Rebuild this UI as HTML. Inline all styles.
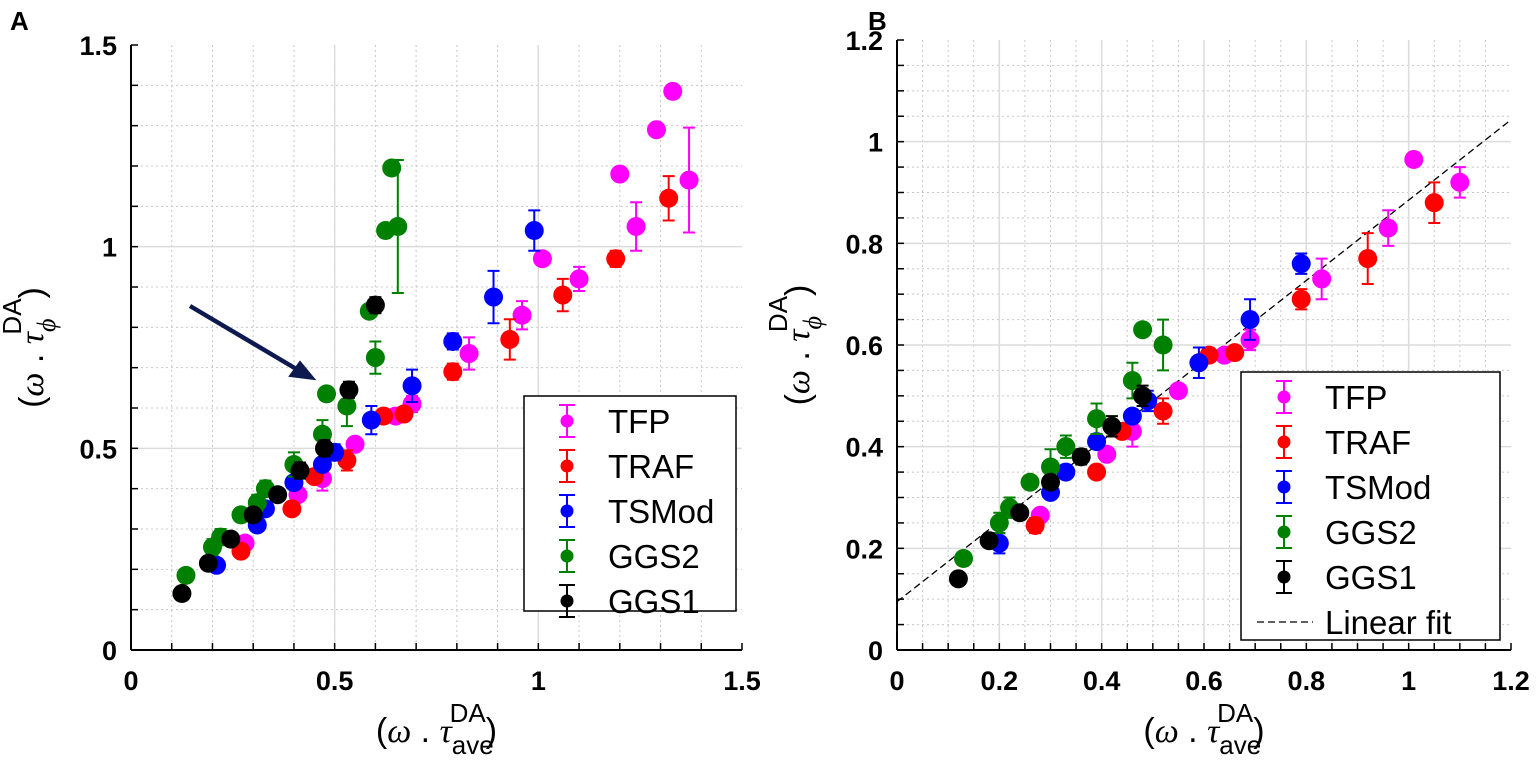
<!DOCTYPE html>
<html><head><meta charset="utf-8"><style>
html,body{margin:0;padding:0;background:#fff;}
svg{display:block;font-family:"Liberation Sans",Arial,sans-serif;}
</style></head><body>
<svg id="s" width="1536" height="770" xmlns="http://www.w3.org/2000/svg"></svg>
<script>
const S=document.getElementById('s');let h='';
const C={TFP:'#ff00ff',TRAF:'#ff0000',TSMod:'#0000ff',GGS2:'#008000',GGS1:'#000000'};
function panel(P){
 const X=v=>P.x0+v*(P.x1-P.x0)/P.xm, Y=v=>P.y0-v*(P.y0-P.y1)/P.ym;
 for(let v=P.mn;v<P.xm-1e-9;v+=P.mn){h+=`<line x1="${X(v)}" y1="${P.y1}" x2="${X(v)}" y2="${P.y0}" stroke="#c8c8c8" stroke-width="1" stroke-dasharray="2,3"/>`;}
 for(let v=P.mn;v<P.ym-1e-9;v+=P.mn){h+=`<line x1="${P.x0}" y1="${Y(v)}" x2="${P.x1}" y2="${Y(v)}" stroke="#c8c8c8" stroke-width="1" stroke-dasharray="2,3"/>`;}
 for(let v=P.mj;v<P.xm-1e-9;v+=P.mj){h+=`<line x1="${X(v)}" y1="${P.y1}" x2="${X(v)}" y2="${P.y0}" stroke="#dcdcdc" stroke-width="1.5"/>`;}
 for(let v=P.mj;v<P.ym-1e-9;v+=P.mj){h+=`<line x1="${P.x0}" y1="${Y(v)}" x2="${P.x1}" y2="${Y(v)}" stroke="#dcdcdc" stroke-width="1.5"/>`;}
 h+=`<line x1="${P.x0}" y1="${P.y1}" x2="${P.x0}" y2="${P.y0}" stroke="#000" stroke-width="2"/><line x1="${P.x0}" y1="${P.y0}" x2="${P.x1}" y2="${P.y0}" stroke="#000" stroke-width="2"/>`;
 for(let v=0;v<=P.xm+1e-9;v+=P.mn){h+=`<line x1="${X(v)}" y1="${P.y0}" x2="${X(v)}" y2="${P.y0-7}" stroke="#000" stroke-width="1.5"/>`;}
 for(let v=0;v<=P.ym+1e-9;v+=P.mn){h+=`<line x1="${P.x0}" y1="${Y(v)}" x2="${P.x0+7}" y2="${Y(v)}" stroke="#000" stroke-width="1.5"/>`;}
 P.xl.forEach(([v,t])=>{h+=`<text x="${X(v)}" y="${P.y0+40}" font-size="27" font-weight="bold" text-anchor="middle">${t}</text>`;});
 P.yl.forEach(([v,t])=>{h+=`<text x="${P.x0-14}" y="${Y(v)+10}" font-size="27" font-weight="bold" text-anchor="end">${t}</text>`;});
 if(P.fit){h+=`<line x1="${X(0)}" y1="${Y(P.fit[0])}" x2="${X(P.xm)}" y2="${Y(P.fit[0]+P.fit[1]*P.xm)}" stroke="#000" stroke-width="1.3" stroke-dasharray="7,4"/>`;}
 if(P.extra) h+=P.extra;
 for(const k of ['TFP','TRAF','TSMod','GGS2','GGS1']){
  for(const p of P.d[k]){const cx=X(p[0]),cy=Y(p[1]);
   if(p[2]){const e=p[2]*(P.y0-P.y1)/P.ym;h+=`<path d="M${cx} ${cy-e}V${cy+e}M${cx-6} ${cy-e}H${cx+6}M${cx-6} ${cy+e}H${cx+6}" stroke="${C[k]}" stroke-width="2" fill="none"/>`;}
   h+=`<circle cx="${cx}" cy="${cy}" r="9.5" fill="${C[k]}"/>`;}
 }
 const L=P.leg;h+=`<rect x="${L.x}" y="${L.y}" width="${L.w}" height="${L.h}" fill="#fff" stroke="#000" stroke-width="1.5"/>`;
 ['TFP','TRAF','TSMod','GGS2','GGS1'].forEach((k,i)=>{const cy=L.y+25+i*45,cx=L.x+43;
  h+=`<path d="M${cx} ${cy-16}V${cy+16}M${cx-8} ${cy-16}H${cx+8}M${cx-8} ${cy+16}H${cx+8}" stroke="${C[k]}" stroke-width="2"/><circle cx="${cx}" cy="${cy}" r="6.5" fill="${C[k]}"/><text x="${L.x+84}" y="${cy+12}" font-size="33">${k}</text>`;});
 if(P.fit){const cy=L.y+25+5*45;h+=`<line x1="${L.x+16}" y1="${cy}" x2="${L.x+72}" y2="${cy}" stroke="#000" stroke-width="1.3" stroke-dasharray="7,4"/><text x="${L.x+84}" y="${cy+12}" font-size="33">Linear fit</text>`;}
 const mx=(P.x0+P.x1)/2;
 h+=`<text x="${mx}" y="${P.y0+92}" font-size="34" text-anchor="middle">(<tspan font-family="Liberation Serif" font-style="italic">ω</tspan> . <tspan font-family="Liberation Serif" font-style="italic">τ</tspan><tspan font-size="26" dy="12">ave</tspan><tspan font-size="26" dx="-44" dy="-32">DA</tspan><tspan dy="20">)</tspan></text>`;
 const my=(P.y0+P.y1)/2;
 h+=`<text transform="translate(${P.x0-88},${my}) rotate(-90)" font-size="34" text-anchor="middle">(<tspan font-family="Liberation Serif" font-style="italic">ω</tspan> . <tspan font-family="Liberation Serif" font-style="italic">τ</tspan><tspan font-size="26" dy="12" font-family="Liberation Serif" font-style="italic">ϕ</tspan><tspan font-size="26" dx="-16" dy="-34">DA</tspan><tspan dy="22">)</tspan></text>`;
 h+=`<text x="${P.lx}" y="30" font-size="26" font-weight="bold">${P.lt}</text>`;
}
const dA={
GGS1:[[0.125,0.14],[0.19,0.215],[0.245,0.275],[0.30,0.335],[0.36,0.385],[0.415,0.445,0.02],[0.475,0.50,0.02],[0.535,0.645,0.02],[0.60,0.855,0.02]],
GGS2:[[0.135,0.185],[0.20,0.255,0.02],[0.22,0.28,0.02],[0.27,0.335],[0.31,0.365,0.02],[0.33,0.40,0.02],[0.40,0.46,0.03],[0.47,0.535,0.035],[0.48,0.635],[0.53,0.605,0.05],[0.585,0.84],[0.60,0.725,0.04],[0.625,1.04],[0.64,1.195],[0.655,1.05,0.165]],
TSMod:[[0.21,0.21],[0.31,0.31],[0.33,0.35],[0.40,0.415],[0.47,0.46],[0.50,0.49,0.02],[0.59,0.57,0.035],[0.69,0.655,0.04],[0.79,0.765,0.02],[0.89,0.875,0.065],[0.99,1.04,0.05]],
TRAF:[[0.27,0.245],[0.395,0.35],[0.45,0.43],[0.53,0.47,0.025],[0.62,0.58],[0.67,0.585],[0.79,0.69,0.02],[0.93,0.77,0.05],[1.06,0.88,0.04],[1.19,0.97,0.02],[1.32,1.12,0.055]],
TFP:[[0.28,0.265],[0.41,0.385],[0.47,0.425,0.03],[0.55,0.51],[0.65,0.58],[0.69,0.61,0.02],[0.83,0.735,0.04],[0.96,0.83,0.035],[1.01,0.97],[1.10,0.92,0.03],[1.20,1.18],[1.24,1.05,0.06],[1.29,1.29],[1.33,1.385],[1.37,1.165,0.13]]};
const dB={
GGS1:[[0.12,0.14],[0.18,0.215],[0.24,0.27],[0.30,0.33,0.01],[0.36,0.38,0.015],[0.42,0.44,0.02],[0.48,0.50,0.02]],
GGS2:[[0.13,0.18],[0.20,0.25,0.02],[0.22,0.28,0.02],[0.26,0.33],[0.30,0.36,0.035],[0.33,0.40,0.022],[0.39,0.455,0.03],[0.46,0.53,0.035],[0.48,0.63],[0.52,0.60,0.05]],
TSMod:[[0.20,0.21,0.02],[0.30,0.31,0.01],[0.33,0.35],[0.39,0.41],[0.46,0.46],[0.49,0.49,0.02],[0.59,0.565,0.03],[0.69,0.65,0.04],[0.79,0.76,0.02]],
TRAF:[[0.27,0.245,0.015],[0.39,0.35],[0.44,0.43],[0.52,0.47,0.025],[0.61,0.58],[0.66,0.585],[0.79,0.69,0.02],[0.92,0.77,0.05],[1.05,0.88,0.04]],
TFP:[[0.28,0.265],[0.41,0.385],[0.46,0.43,0.03],[0.55,0.51],[0.64,0.58],[0.69,0.61,0.02],[0.83,0.73,0.04],[0.96,0.83,0.035],[1.01,0.965],[1.10,0.92,0.03]]};
panel({x0:131,x1:742,y0:650,y1:45,xm:1.5,ym:1.5,mn:0.1,mj:0.5,d:dA,
 xl:[[0,'0'],[0.5,'0.5'],[1,'1'],[1.5,'1.5']],yl:[[0,'0'],[0.5,'0.5'],[1,'1'],[1.5,'1.5']],
 leg:{x:524,y:396,w:212,h:215},lx:10,lt:'A',
 extra:`<line x1="190" y1="306" x2="298" y2="370" stroke="#0e1a4f" stroke-width="4.5"/><polygon points="314,379 290,376 300,362" fill="#0e1a4f" stroke="#0e1a4f" stroke-width="2"/>`});
panel({x0:897,x1:1511,y0:650,y1:40,xm:1.2,ym:1.2,mn:0.05,mj:0.2,d:dB,fit:[0.095,0.79],
 xl:[[0,'0'],[0.2,'0.2'],[0.4,'0.4'],[0.6,'0.6'],[0.8,'0.8'],[1,'1'],[1.2,'1.2']],
 yl:[[0,'0'],[0.2,'0.2'],[0.4,'0.4'],[0.6,'0.6'],[0.8,'0.8'],[1,'1'],[1.2,'1.2']],
 leg:{x:1241,y:372,w:259,h:268},lx:868,lt:'B'});
S.innerHTML=h;
</script>
</body></html>
